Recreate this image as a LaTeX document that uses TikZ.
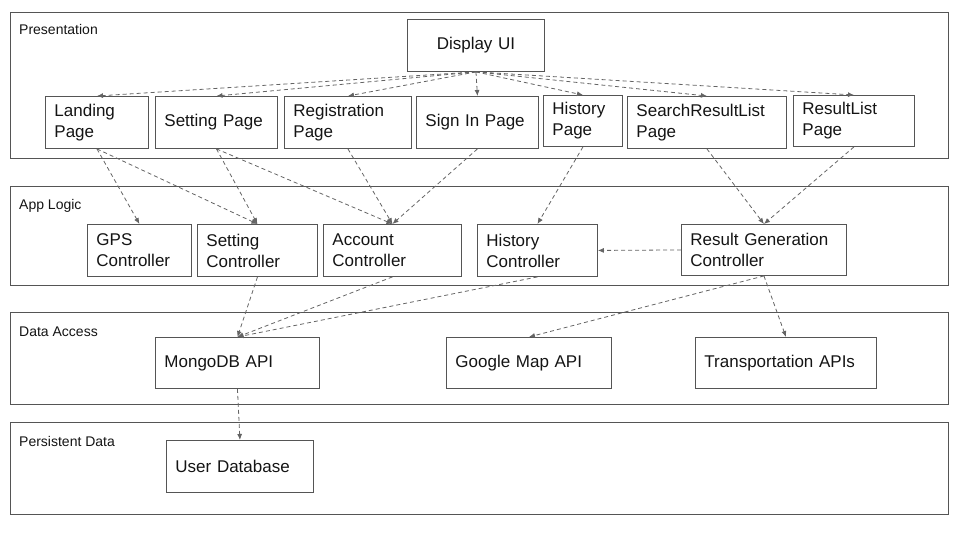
\documentclass[tikz,border=0pt]{standalone}
\usepackage{fontspec}
\setmainfont{Liberation Sans}
\usetikzlibrary{arrows.meta}
\definecolor{ink}{RGB}{20,20,20}
\definecolor{frame}{RGB}{85,85,85}
\definecolor{wire}{RGB}{100,100,100}
\tikzset{
  layer/.style={draw=frame,line width=0.9pt,anchor=north west,
    minimum width=938pt,inner sep=0pt},
  layerlbl/.style={anchor=base west,inner sep=0pt,
    font=\fontsize{14}{17}\selectfont,text=ink},
  blk/.style={draw=frame,line width=0.9pt,anchor=north west,align=left,
    inner xsep=9pt,inner ysep=0pt,text width=#1,minimum height=52pt,
    font=\fontsize{17}{21}\selectfont,text=ink},
  dep/.style={-{Latex[length=6pt,width=5pt]},wire,
    dash pattern=on 4pt off 3pt,line width=0.8pt},
}
\begin{document}
\begin{tikzpicture}[x=1pt,y=-1pt]
  \useasboundingbox (0,0) rectangle (960,540);
  % layers
  \node[layer,minimum height=146pt] (pres) at (10,12) {};
  \node[layer,minimum height=99pt] (logic) at (10,186) {};
  \node[layer,minimum height=92pt] (access) at (10,312) {};
  \node[layer,minimum height=92pt] (persist) at (10,422) {};
  \node[layerlbl] (presl) at (19,35) {Presentation};
  \node[layerlbl] (logicl) at (19,209) {App Logic};
  \node[layerlbl] (accessl) at (19,336) {Data Access};
  \node[layerlbl] (persistl) at (19,446) {Persistent Data};
  % presentation
  \node[blk=119pt,align=center] (disp) at (407,19) {Display UI};
  \node[blk=85pt] (land) at (45,96) {Landing\\Page};
  \node[blk=104pt] (setp) at (155,96) {Setting Page};
  \node[blk=109pt] (regp) at (284,96) {Registration\\Page};
  \node[blk=104pt] (sign) at (416,96) {Sign In Page};
  \node[blk=61pt,minimum height=51pt] (histp) at (543,95) {History\\Page};
  \node[blk=141pt] (srlp) at (627,96) {SearchResultList\\Page};
  \node[blk=103pt,minimum height=51pt] (rlp) at (793,95) {ResultList\\Page};
  % app logic
  \node[blk=86pt] (gps) at (87,224) {GPS\\Controller};
  \node[blk=102pt] (setc) at (197,224) {Setting\\Controller};
  \node[blk=120pt] (acc) at (323,224) {Account\\Controller};
  \node[blk=102pt] (histc) at (477,224) {History\\Controller};
  \node[blk=147pt,minimum height=51pt] (rgc) at (681,224) {Result Generation\\Controller};
  % data access
  \node[blk=146pt,minimum height=51pt] (mongo) at (155,337) {MongoDB API};
  \node[blk=147pt,minimum height=51pt] (gmap) at (446,337) {Google Map API};
  \node[blk=163pt,minimum height=51pt] (trans) at (695,337) {Transportation APIs};
  % persistent data
  \node[blk=129pt] (udb) at (166,440) {User Database};
  % connectors
  \foreach \p in {land,setp,regp,sign,histp,srlp,rlp}
    \draw[dep] (disp.south) -- (\p.north);
  \draw[dep] (land.south) -- (gps.north);
  \draw[dep] (land.south) -- (setc.north);
  \draw[dep] (setp.south) -- (setc.north);
  \draw[dep] (setp.south) -- (acc.north);
  \draw[dep] (regp.south) -- (acc.north);
  \draw[dep] (sign.south) -- (acc.north);
  \draw[dep] (histp.south) -- (histc.north);
  \draw[dep] (srlp.south) -- (rgc.north);
  \draw[dep] (rlp.south) -- (rgc.north);
  \draw[dep] (rgc.west) -- (histc.east);
  \foreach \c in {setc,acc,histc}
    \draw[dep] (\c.south) -- (mongo.north);
  \draw[dep] (rgc.south) -- (gmap.north);
  \draw[dep] (rgc.south) -- (trans.north);
  \draw[dep] (mongo.south) -- (udb.north);
\end{tikzpicture}
\end{document}
